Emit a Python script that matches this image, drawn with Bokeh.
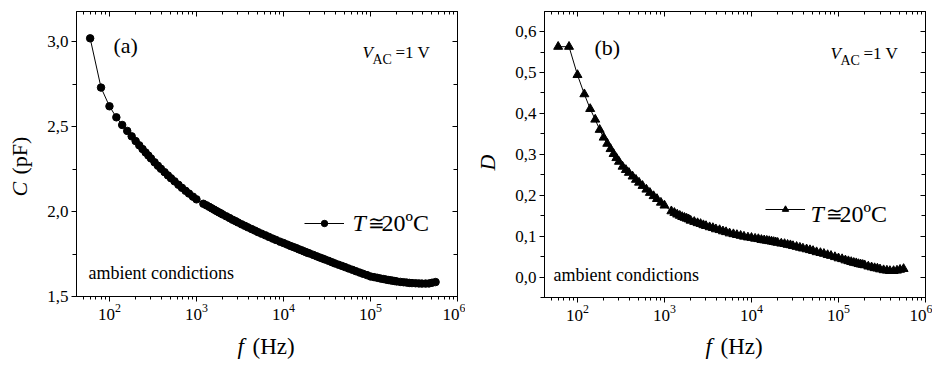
import math
from bokeh.plotting import figure
from bokeh.models import (Range1d, FixedTicker, LogAxis, LinearAxis, Label, Legend,
                          LegendItem, CustomJSTickFormatter, LogTickFormatter)
from bokeh.layouts import row, column
from bokeh.embed import file_html
from bokeh.resources import INLINE

FONT = "Liberation Serif"

# ---------------- data ----------------
freq_hz = [60, 80, 100, 120, 140, 160, 180, 200, 220, 240, 260, 280, 300,
           330, 360, 390, 430, 470, 510, 560, 620, 680, 750, 820, 910, 1000,
           1200, 1300, 1400, 1500, 1600, 1700, 1800, 1900, 2000, 2200, 2400, 2600, 2800,
           3000, 3300, 3600, 3900, 4300, 4700, 5100, 5600, 6200, 6800, 7500, 8200, 9100,
           10000, 11000, 12000, 13000, 14000, 15000, 16000, 17000, 18000, 19000, 20000,
           22000, 24000, 26000, 28000, 30000, 33000, 36000, 39000, 43000, 47000, 51000,
           56000, 62000, 68000, 75000, 82000, 91000,
           100000, 110000, 120000, 130000, 140000, 150000, 160000, 170000, 180000, 190000,
           200000, 220000, 240000, 260000, 280000, 300000, 330000, 360000, 390000, 430000,
           470000, 510000, 560000]

cap_pF = [3.02, 2.73, 2.62, 2.555, 2.51, 2.475, 2.443, 2.415, 2.39, 2.368, 2.348, 2.33, 2.313,
          2.29, 2.27, 2.252, 2.232, 2.213, 2.196, 2.178, 2.158, 2.140, 2.122, 2.106, 2.088, 2.072,
          2.046, 2.037, 2.028, 2.019, 2.011, 2.003, 1.996, 1.990, 1.983, 1.972, 1.962, 1.952, 1.944,
          1.936, 1.925, 1.916, 1.907, 1.897, 1.888, 1.879, 1.870, 1.860, 1.851, 1.841, 1.833, 1.823,
          1.815, 1.806, 1.798, 1.791, 1.785, 1.778, 1.773, 1.767, 1.762, 1.757, 1.753,
          1.745, 1.737, 1.730, 1.724, 1.718, 1.710, 1.702, 1.695, 1.687, 1.680, 1.673,
          1.665, 1.657, 1.649, 1.641, 1.634, 1.626,
          1.618, 1.614, 1.610, 1.606, 1.603, 1.600, 1.597, 1.595, 1.593, 1.591,
          1.589, 1.586, 1.584, 1.582, 1.580, 1.579, 1.578, 1.577, 1.576, 1.576,
          1.577, 1.581, 1.585]

diss_D = [0.563, 0.563, 0.494, 0.447, 0.411, 0.385, 0.360, 0.341, 0.326, 0.313, 0.301, 0.291, 0.282,
          0.270, 0.262, 0.255, 0.246, 0.238, 0.231, 0.223, 0.214, 0.206, 0.198, 0.191, 0.182, 0.175,
          0.161, 0.157, 0.153, 0.150, 0.147, 0.145, 0.143, 0.141, 0.138, 0.135, 0.132, 0.130, 0.127,
          0.125, 0.122, 0.120, 0.117, 0.115, 0.112, 0.110, 0.107, 0.105, 0.103, 0.101, 0.099, 0.097,
          0.096, 0.094, 0.093, 0.091, 0.090, 0.089, 0.088, 0.087, 0.086, 0.085, 0.084,
          0.082, 0.081, 0.079, 0.078, 0.076, 0.074, 0.072, 0.070, 0.068, 0.066, 0.064,
          0.061, 0.059, 0.057, 0.054, 0.052, 0.049,
          0.046, 0.044, 0.041, 0.039, 0.037, 0.035, 0.034, 0.032, 0.031, 0.030,
          0.029, 0.026, 0.024, 0.022, 0.021, 0.019, 0.017, 0.016, 0.015, 0.015,
          0.016, 0.018, 0.020]

x_major_ticks = [1e2, 1e3, 1e4, 1e5, 1e6]
c_major_ticks = [1.5, 2.0, 2.5, 3.0]
c_minor_ticks = [1.75, 2.25, 2.75]
d_major_ticks = [0.0, 0.1, 0.2, 0.3, 0.4, 0.5, 0.6]
d_minor_ticks = [-0.05, 0.05, 0.15, 0.25, 0.35, 0.45, 0.55, 0.65]

x_minor_ticks = [m * 10 ** e for e in range(1, 6) for m in range(2, 10)]

comma_fmt = "return tick.toFixed(1).replace('.', ',')"


def lbl(p, x, y, text, size, italic=False, angle=0.0, align="left"):
    p.add_layout(Label(x=x, y=y, x_units="screen", y_units="screen", text=text,
                       text_font=FONT, text_font_size=size,
                       text_font_style="italic" if italic else "normal",
                       text_color="black", text_baseline="alphabetic",
                       text_align=align, angle=angle))


def text_fig(w, h):
    f = figure(width=w, height=h, min_border=0, x_axis_location=None, y_axis_location=None,
               toolbar_location=None, output_backend="svg",
               x_range=Range1d(0, 1), y_range=Range1d(0, 1),
               outline_line_color=None, background_fill_color="white",
               border_fill_color="white")
    f.grid.visible = False
    return f


def make_panel(yvals, yrange, ymaj, ymin, marker, msize, border_left, border_right,
               border_top, frame_h, legend_loc):
    p = figure(x_axis_type="log", x_range=Range1d(41.8, 1e6), y_range=Range1d(*yrange),
               frame_width=381, frame_height=frame_h,
               min_border_left=border_left, min_border_right=border_right,
               min_border_top=border_top, min_border_bottom=36,
               output_backend="svg", toolbar_location=None,
               background_fill_color="white", border_fill_color="white",
               outline_line_color="black")
    p.grid.visible = False

    xt = FixedTicker(ticks=x_major_ticks, minor_ticks=x_minor_ticks)
    yt = FixedTicker(ticks=ymaj, minor_ticks=ymin)

    xa = p.xaxis[0]
    xa.ticker = xt
    xa.formatter = LogTickFormatter()
    xa.major_tick_out = 5
    xa.major_tick_in = 0
    xa.minor_tick_out = 3
    xa.minor_tick_in = 0
    xa.major_label_standoff = 2
    xa.major_label_text_font = FONT
    xa.major_label_text_font_size = "17px"
    xa.major_label_text_color = "black"
    xa.axis_line_color = "black"
    xa.major_tick_line_color = "black"
    xa.minor_tick_line_color = "black"

    ya = p.yaxis[0]
    ya.ticker = yt
    ya.formatter = CustomJSTickFormatter(code=comma_fmt)
    ya.major_tick_out = 5
    ya.major_tick_in = 0
    ya.minor_tick_out = 4
    ya.minor_tick_in = 0
    ya.major_label_standoff = 3
    ya.major_label_text_font = FONT
    ya.major_label_text_font_size = "17px"
    ya.major_label_text_color = "black"
    ya.axis_line_color = "black"
    ya.major_tick_line_color = "black"
    ya.minor_tick_line_color = "black"

    top = LogAxis(ticker=xt, major_tick_in=5, major_tick_out=0, minor_tick_in=3, minor_tick_out=0,
                  major_label_text_font_size="1px", major_label_text_alpha=0,
                  major_label_standoff=0,
                  axis_line_color="black", major_tick_line_color="black",
                  minor_tick_line_color="black")
    p.add_layout(top, "above")
    right = LinearAxis(ticker=yt, major_tick_in=5, major_tick_out=0, minor_tick_in=4, minor_tick_out=0,
                       major_label_text_font_size="1px", major_label_text_alpha=0,
                       major_label_standoff=0,
                       axis_line_color="black", major_tick_line_color="black",
                       minor_tick_line_color="black")
    p.add_layout(right, "right")

    r_line = p.line(freq_hz, yvals, line_color="black", line_width=1)
    r_mark = p.scatter(freq_hz, yvals, marker=marker, size=msize,
                       fill_color="black", line_color="black")

    leg = Legend(items=[LegendItem(label=" ", renderers=[r_line, r_mark])],
                 location=legend_loc, padding=0, margin=0, spacing=0,
                 glyph_width=40, glyph_height=16, label_standoff=0,
                 label_height=16, label_text_alpha=0,
                 background_fill_alpha=0, border_line_alpha=0)
    p.add_layout(leg)
    return p


# ---------------- panel (a) ----------------
pa = make_panel(cap_pF, (1.5, 3.178), c_major_ticks, c_minor_ticks, "circle", 7.5,
                36, 8, 11, 285, (228, 65))
lbl(pa, 37, 251, "(a)", "22px")
lbl(pa, 286, 244, "V", "17px", italic=True)
lbl(pa, 296, 237, "AC", "14px")
lbl(pa, 319, 244, "=1 V", "17px")
lbl(pa, 276, 74, "T", "24px", italic=True)
lbl(pa, 291, 74, "\u2245", "20px")
lbl(pa, 305, 74, "20\u00baC", "24px")
lbl(pa, 12, 24, "ambient condictions", "18px")

# ---------------- panel (b) ----------------
pb = make_panel(diss_D, (-0.05, 0.649), d_major_ticks, d_minor_ticks, "triangle", 9,
                44, 7, 10, 286, (221, 80))
lbl(pb, 50, 250, "(b)", "22px")
lbl(pb, 286, 244, "V", "17px", italic=True)
lbl(pb, 296, 237, "AC", "14px")
lbl(pb, 319, 244, "=1 V", "17px")
lbl(pb, 266, 84, "T", "24px", italic=True)
lbl(pb, 281, 84, "\u2245", "20px")
lbl(pb, 295, 84, "20\u00baC", "24px")
lbl(pb, 9, 23, "ambient condictions", "18px")

# ---------------- axis titles (own strips) ----------------
yla = text_fig(40, 332)
lbl(yla, 19, 100, "C", "22px", italic=True, angle=math.pi / 2)
lbl(yla, 19, 122, "(pF)", "22px", angle=math.pi / 2)

ylb = text_fig(35, 332)
lbl(ylb, 22, 134, "D", "22px", italic=True, angle=math.pi / 2, align="center")

xla = text_fig(465, 32)
lbl(xla, 237, 18, "f", "23px", italic=True)
lbl(xla, 252, 18, "(Hz)", "23px")

xlb = text_fig(467, 32)
lbl(xlb, 240, 18, "f", "23px", italic=True)
lbl(xlb, 255, 18, "(Hz)", "23px")

layout = column(row(yla, pa, ylb, pb), row(xla, xlb))
open("out.html", "w").write(file_html(layout, INLINE))
